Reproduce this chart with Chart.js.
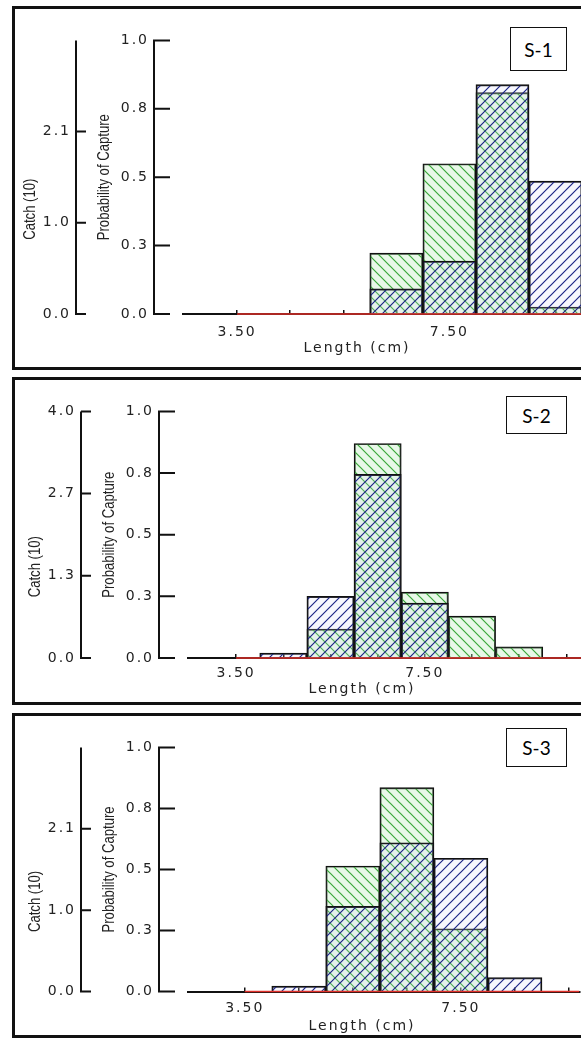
<!DOCTYPE html>
<html>
<head>
<meta charset="utf-8">
<script src="https://cdn.jsdelivr.net/npm/chart.js@4.4.1/dist/chart.umd.min.js"></script>
<style>
  html, body { margin: 0; padding: 0; background: #fff; }
  body { width: 581px; height: 1038px; position: relative; overflow: hidden; }
  canvas { position: absolute; left: 0; }
  .frame { position: absolute; left: 12px; width: 620px; box-sizing: border-box; border: 3px solid #111; pointer-events: none; }
  .tag { position: absolute; box-sizing: border-box; border: 1.5px solid #111; background: #fff; color: #000;
         font: 19px Lato, "Open Sans", sans-serif; display: flex; align-items: center; justify-content: center; }
</style>
</head>
<body>
<canvas id="chart-s1" width="581" height="364" style="top:6px"></canvas>
<canvas id="chart-s2" width="581" height="328" style="top:377px"></canvas>
<canvas id="chart-s3" width="581" height="325" style="top:713px"></canvas>

<div class="frame" style="top:6px;height:364px"></div>
<div class="frame" style="top:377px;height:328px"></div>
<div class="frame" style="top:713px;height:325px"></div>

<div class="tag" style="left:510px;top:27px;width:57px;height:44px">S-1</div>
<div class="tag" style="left:506px;top:396px;width:61px;height:38px">S-2</div>
<div class="tag" style="left:506px;top:728px;width:61px;height:39px">S-3</div>

<script>
// catch per length class (bin centres, cm)

const s1Lengths = [6.5, 7.5, 8.5, 9.5];
const s1Blue = [0.29, 0.61, 2.64, 1.53];
const s1Green = [0.7, 1.73, 2.55, 0.08];

const s2Lengths = [4.5, 5.5, 6.5, 7.5, 8.5, 9.5];
const s2Blue = [0.08, 1.0, 2.98, 0.89, 0, 0];
const s2Green = [0, 0.47, 3.48, 1.07, 0.68, 0.18];

const s3Lengths = [4.5, 5.5, 6.5, 7.5, 8.5];
const s3Blue = [0.07, 1.1, 1.92, 1.72, 0.18];
const s3Green = [0, 1.62, 2.63, 0.81, 0];

// red curve, flat at zero
const curveLengths = [3.5, 4.5, 5.5, 6.5, 7.5, 8.5, 9.5, 10.5, 11.5];
const curveValues = [0, 0, 0, 0, 0, 0, 0, 0, 0];

// axis ticks
const lengthTicks = [3.5, 4.5, 5.5, 6.5, 7.5, 8.5, 9.5, 10.5];
const lengthTickLabels = ["3.50", "", "", "", "7.50", "", "", ""];

const probTicks = [0, 0.25, 0.5, 0.75, 1];
const probTickLabels = ["0.0", "0.3", "0.5", "0.8", "1.0"];

const catchTicksA = [0, 1.05, 2.1];
const catchTickLabelsA = ["0.0", "1.0", "2.1"];
const catchTicksB = [0, 1.333, 2.667, 4];
const catchTickLabelsB = ["0.0", "1.3", "2.7", "4.0"];

const TICK_FONT = { family: "DejaVu Sans", size: 14 };

const makeHatch = (ctx, color, back, forward) => {
  const size = 10;
  const c = document.createElement("canvas");
  c.width = size;
  c.height = size;
  const g = c.getContext("2d");
  if (back) {
    g.fillStyle = back;
    g.fillRect(0, 0, size, size);
  }
  g.strokeStyle = color;
  g.lineWidth = 1.2;
  g.beginPath();
  if (forward) {
    g.moveTo(0, size); g.lineTo(size, 0);
    g.moveTo(-1, 1); g.lineTo(1, -1);
    g.moveTo(size - 1, size + 1); g.lineTo(size + 1, size - 1);
  } else {
    g.moveTo(0, 0); g.lineTo(size, size);
    g.moveTo(-1, size - 1); g.lineTo(1, size + 1);
    g.moveTo(size - 1, -1); g.lineTo(size + 1, 1);
  }
  g.stroke();
  return ctx.createPattern(c, "repeat");
};

// vertical title, squeezed along its length like a narrow face
const drawYTitle = (ctx, text, x, y) => {
  ctx.save();
  ctx.translate(x, y);
  ctx.rotate(-Math.PI / 2);
  ctx.scale(0.82, 1);
  ctx.fillText(text, 0, 0);
  ctx.restore();
};

// axis lines with inward ticks, rotated y titles and the x title
const axisDecor = {
  id: "axisDecor",
  beforeDraw(chart) {
    chart.ctx.letterSpacing = "2px";
  },
  afterDraw(chart, args, opts) {
    const { ctx, chartArea, scales } = chart;
    const left = chartArea.left;
    const midY = (chartArea.top + chartArea.bottom) / 2;
    ctx.save();
    ctx.strokeStyle = "#111";
    ctx.lineWidth = 2;

    const prob = scales.prob;
    const px = left - 29;
    ctx.beginPath();
    ctx.moveTo(px, prob.getPixelForValue(1) - 1);
    ctx.lineTo(px, prob.getPixelForValue(0) + 1);
    prob.ticks.forEach((t) => {
      const y = prob.getPixelForValue(t.value);
      ctx.moveTo(px, y);
      ctx.lineTo(px + 16, y);
    });
    ctx.stroke();

    const cat = scales.catch;
    const cx = left - 107;
    ctx.beginPath();
    ctx.moveTo(cx, chartArea.top);
    ctx.lineTo(cx, cat.getPixelForValue(0) + 1);
    cat.ticks.forEach((t) => {
      const y = cat.getPixelForValue(t.value);
      ctx.moveTo(cx, y);
      ctx.lineTo(cx + 10, y);
    });
    ctx.stroke();

    ctx.fillStyle = "#222";
    ctx.textAlign = "center";
    ctx.textBaseline = "middle";

    ctx.letterSpacing = "0px";
    ctx.font = "16px 'Liberation Sans', Arial, sans-serif";
    drawYTitle(ctx, "Probability of Capture", left - 78, midY);
    drawYTitle(ctx, "Catch (10)", left - 152, midY + 32);

    ctx.letterSpacing = "2px";
    ctx.font = "14px 'DejaVu Sans', sans-serif";
    ctx.fillText("Length (cm)", left + 174, chartArea.bottom + opts.titleDy);
    ctx.restore();
  },
};

const makeChart = (id, p) => {
  const canvas = document.getElementById(id);
  const ctx = canvas.getContext("2d");
  const blueHatch = makeHatch(ctx, "#1d2585", "rgba(210,210,245,0.18)", true);
  const greenHatch = makeHatch(ctx, "#3aa83a", "rgba(190,235,190,0.35)", false);

  return new Chart(ctx, {
    type: "bar",
    data: {
      datasets: [
        {
          type: "line",
          data: curveLengths.map((x, i) => ({ x, y: curveValues[i] })),
          yAxisID: "catch",
          borderColor: "#e0302a",
          borderWidth: 1.5,
          pointRadius: 0,
          order: 0,
          clip: { left: 0, top: 0, right: 0, bottom: 5 },
        },
        {
          data: p.lengths.map((x, i) => ({ x, y: p.blue[i] })),
          yAxisID: "catch",
          backgroundColor: blueHatch,
          borderColor: "#111",
          borderWidth: 1.3,
          order: 1,
        },
        {
          data: p.lengths.map((x, i) => ({ x, y: p.green[i] })),
          yAxisID: "catch",
          backgroundColor: greenHatch,
          borderColor: "#111",
          borderWidth: 1.3,
          order: 2,
        },
      ],
    },
    options: {
      responsive: false,
      animation: false,
      layout: { padding: { top: p.padTop, left: 0, right: 0, bottom: 0 } },
      datasets: {
        bar: { grouped: false, barPercentage: 1, categoryPercentage: 1 },
      },
      plugins: {
        legend: { display: false },
        tooltip: { enabled: false },
        axisDecor: { titleDy: p.titleDy },
      },
      scales: {
        x: {
          type: "linear",
          offset: false,
          min: p.xMin,
          max: p.xMax,
          afterBuildTicks: (axis) => {
            axis.ticks = lengthTicks.filter((v) => v <= axis.max).map((v) => ({ value: v }));
          },
          afterFit: (axis) => {
            axis.height = p.xAxisHeight;
          },
          ticks: {
            autoSkip: false,
            maxRotation: 0,
            padding: p.tickPad,
            color: "#222",
            font: TICK_FONT,
            callback: (value, index) => lengthTickLabels[index],
          },
          grid: { offset: false, drawOnChartArea: false, tickLength: -4, color: "#111", lineWidth: 1.5 },
          border: { display: true, color: "#111", width: 2 },
        },
        catch: {
          type: "linear",
          position: "left",
          weight: 1,
          min: 0,
          max: p.catchMax,
          afterBuildTicks: (axis) => {
            axis.ticks = p.catchTicks.map((v) => ({ value: v }));
          },
          afterFit: (axis) => {
            axis.width = p.catchWidth;
          },
          ticks: {
            padding: 18,
            color: "#222",
            font: TICK_FONT,
            callback: (value, index) => p.catchLabels[index],
          },
          grid: { display: false },
          border: { display: false },
        },
        prob: {
          type: "linear",
          position: "left",
          weight: 0,
          min: 0,
          max: 1,
          afterBuildTicks: (axis) => {
            axis.ticks = probTicks.map((v) => ({ value: v }));
          },
          afterFit: (axis) => {
            axis.width = 86;
          },
          ticks: {
            padding: 26,
            color: "#222",
            font: TICK_FONT,
            callback: (value, index) => probTickLabels[index],
          },
          grid: { display: false },
          border: { display: false },
        },
      },
    },
    plugins: [axisDecor],
  });
};

makeChart("chart-s1", {
  lengths: s1Lengths, blue: s1Blue, green: s1Green,
  catchMax: 3.15, catchTicks: catchTicksA, catchLabels: catchTickLabelsA,
  xMin: 2.48, xMax: 9.98, catchWidth: 97,
  padTop: 27.5, xAxisHeight: 56, tickPad: 14, titleDy: 34,
});

makeChart("chart-s2", {
  lengths: s2Lengths, blue: s2Blue, green: s2Green,
  catchMax: 4, catchTicks: catchTicksB, catchLabels: catchTickLabelsB,
  xMin: 2.48, xMax: 10.81, catchWidth: 102,
  padTop: 25.5, xAxisHeight: 47, tickPad: 11, titleDy: 31,
});

makeChart("chart-s3", {
  lengths: s3Lengths, blue: s3Blue, green: s3Green,
  catchMax: 3.15, catchTicks: catchTicksA, catchLabels: catchTickLabelsA,
  xMin: 2.45, xMax: 9.69, catchWidth: 102,
  padTop: 24.5, xAxisHeight: 46.5, tickPad: 12, titleDy: 34.5,
});
</script>
</body>
</html>
